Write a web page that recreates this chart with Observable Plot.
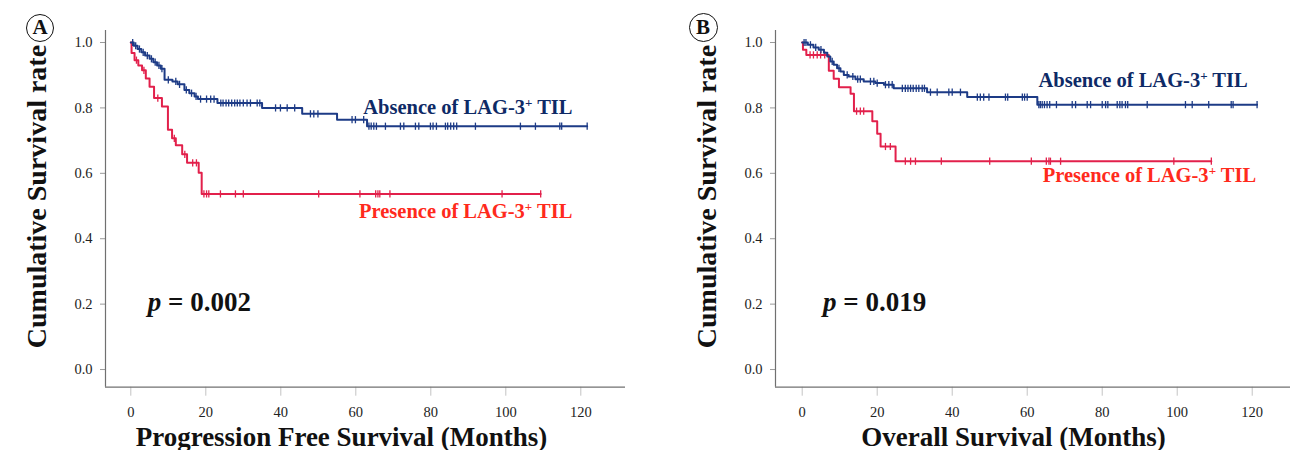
<!DOCTYPE html>
<html><head><meta charset="utf-8">
<script src="https://cdn.jsdelivr.net/npm/d3@7"></script>
<script src="https://cdn.jsdelivr.net/npm/@observablehq/plot@0.6"></script>
<style>
html,body{margin:0;padding:0;background:#fff;}
#wrap{display:flex;width:1290px;height:450px;position:relative;}
.panel{position:relative;width:645px;height:450px;}
.badge{position:absolute;box-sizing:border-box;border:1.5px solid #111;border-radius:50%;
  font-family:"Liberation Serif",serif;font-weight:bold;font-size:21px;color:#111;
  display:flex;align-items:center;justify-content:center;background:transparent;}
</style></head><body><div id="wrap"></div>
<script>
// ---- data ----
const yTicks = [0, 0.2, 0.4, 0.6, 0.8, 1.0];
const xTicks = [0, 20, 40, 60, 80, 100, 120];
const seriesNames = ["Absence of LAG-3+ TIL", "Presence of LAG-3+ TIL"];
const yTitle = "Cumulative Survival rate";
const xTitles = ["Progression Free Survival (Months)", "Overall Survival (Months)"];
const pValues = ["p = 0.002", "p = 0.019"];
const panelLetters = ["A", "B"];

// Panel A: progression free survival
const pfsAbsenceTime = [0, 0.8, 1.8, 2.8, 3.8, 5, 6, 7, 8, 9, 11.1, 12.5, 14.3, 15.6, 17, 17.9, 23.1, 35.0, 45.7, 55.0, 63.0, 121.7];
const pfsAbsenceSurv = [1, 0.99, 0.98, 0.97, 0.96, 0.95, 0.94, 0.93, 0.92, 0.886, 0.881, 0.872, 0.855, 0.845, 0.835, 0.827, 0.815, 0.80, 0.782, 0.764, 0.744, 0.744];
const pfsAbsenceCensor = [0.5, 1.3, 2.3, 3.3, 4.4, 5.5, 6.5, 7.5, 8.3, 10, 12, 13, 14.8, 16.2, 17.4, 18.6, 20.2, 21.3, 22.2, 24.0, 24.6, 25.4, 26.1, 26.9, 27.7, 28.4, 29.1, 30.0, 31.0, 31.9, 33.7, 34.4, 38.6, 39.9, 41.7, 43.7, 47.9, 48.8, 49.9, 59.0, 59.9, 62.1, 63.5, 64.1, 64.8, 65.5, 67.9, 71.9, 72.8, 75.9, 76.8, 79.9, 80.6, 81.5, 83.9, 84.5, 85.3, 86.1, 86.9, 91.9, 103.9, 107.9, 114.4, 114.9, 121.7];
const pfsPresenceTime = [0, 0.2, 1.0, 2.0, 3.0, 4.0, 5.0, 6.2, 8.3, 9.9, 11.0, 12.0, 13.7, 15.0, 18.1, 18.9, 109.3];
const pfsPresenceSurv = [1, 0.968, 0.946, 0.93, 0.915, 0.89, 0.865, 0.83, 0.804, 0.733, 0.707, 0.686, 0.658, 0.632, 0.602, 0.537, 0.537];
const pfsPresenceCensor = [1.5, 3.5, 7.2, 11.6, 14.4, 16.5, 17.5, 19.5, 20.2, 20.8, 23.9, 27.9, 30.0, 50.1, 61.1, 65.3, 65.9, 66.4, 69.1, 99.0, 109.3];

// Panel B: overall survival
const osAbsenceTime = [0, 1.5, 3, 4.4, 5.8, 6.7, 7.5, 8.4, 9.3, 10.2, 11.1, 12.4, 14.2, 16.4, 19.5, 21.8, 24.4, 33.3, 44, 62.7, 121.3];
const osAbsenceSurv = [1, 0.993, 0.985, 0.978, 0.969, 0.957, 0.942, 0.932, 0.921, 0.911, 0.901, 0.896, 0.888, 0.881, 0.876, 0.871, 0.86, 0.848, 0.833, 0.81, 0.81];
const osAbsenceCensor = [0.5, 1, 2.2, 3.6, 5, 8, 9.8, 12, 13.5, 14.8, 15.5, 18.2, 19.1, 20, 22.2, 23.1, 24, 26.7, 27.5, 28.2, 28.9, 29.6, 30.4, 31.1, 32, 32.6, 34.2, 36, 39.1, 40, 42.2, 46.7, 47.5, 48.4, 49.8, 54.2, 54.8, 58.7, 59.3, 60, 63.1, 63.5, 64, 64.6, 65.3, 66, 67.8, 72, 72.9, 76, 76.9, 80, 80.9, 81.5, 84, 84.7, 85.3, 86.2, 86.8, 92, 102.2, 104, 108.4, 114.4, 114.9, 121.3];
const osPresenceTime = [0, 0.2, 1.1, 7.1, 8.4, 9.8, 12.9, 13.8, 18.7, 20.0, 20.9, 24.9, 109.1];
const osPresenceSurv = [1, 0.978, 0.962, 0.914, 0.889, 0.863, 0.843, 0.79, 0.759, 0.721, 0.682, 0.637, 0.637];
const osPresenceCensor = [2.1, 3.0, 4.0, 4.9, 6.0, 14.5, 15.5, 16.4, 22.2, 23.5, 27.5, 28.9, 30.2, 37.1, 50, 61.1, 65.1, 65.8, 66.2, 68.9, 99.1, 109.1];

// ---- styling / layout ----
const BLUE = "#1d3b86", RED = "#e2204b";
const BLUE_TXT = "#0e2a66", RED_TXT = "#ff2a1c";
const FONT = "'Liberation Serif','Times New Roman',serif";
const yDomain = [-0.054, 1.0367];

const panels = [
  {letter: panelLetters[0], xTitle: xTitles[0], p: pValues[0],
   absT: pfsAbsenceTime, absS: pfsAbsenceSurv, absC: pfsAbsenceCensor,
   preT: pfsPresenceTime, preS: pfsPresenceSurv, preC: pfsPresenceCensor,
   ml: 105, mr: 20, xDomain: [-6.75, 131.92], xTitleDx: -24,
   absLab: [89.9, 0.802], preLab: [89.3, 0.482], pLab: [18.3, 0.206],
   badge: [40, 27.5, 14]},
  {letter: panelLetters[1], xTitle: xTitles[1], p: pValues[1],
   absT: osAbsenceTime, absS: osAbsenceSurv, absC: osAbsenceCensor,
   preT: osPresenceTime, preS: osPresenceSurv, preC: osPresenceCensor,
   ml: 130, mr: 0, xDomain: [-7.12, 130.21], xTitleDx: -19.5,
   absLab: [90.9, 0.883], preLab: [92.6, 0.593], pLab: [19.3, 0.206],
   badge: [58, 27.5, 14.5]}
];

const vtick = {draw(ctx, size) { const r = Math.sqrt(size / Math.PI); ctx.moveTo(0, -r); ctx.lineTo(0, r); }};
function survAt(T, S, t) { let s = S[0]; for (let i = 0; i < T.length; i++) if (T[i] <= t) s = S[i]; return s; }

const wrap = document.getElementById("wrap");
for (const cfg of panels) {
  const absLine = cfg.absT.map((t, i) => ({t, s: cfg.absS[i]}));
  const preLine = cfg.preT.map((t, i) => ({t, s: cfg.preS[i]}));
  const absCens = cfg.absC.map(t => ({t, s: survAt(cfg.absT, cfg.absS, t)}));
  const preCens = cfg.preC.map(t => ({t, s: survAt(cfg.preT, cfg.preS, t)}));
  const labels = [
    {t: cfg.absLab[0], s: cfg.absLab[1], text: seriesNames[0], fill: BLUE_TXT},
    {t: cfg.preLab[0], s: cfg.preLab[1], text: seriesNames[1], fill: RED_TXT}
  ];
  const chart = Plot.plot({
    width: 645, height: 450,
    marginLeft: cfg.ml, marginRight: cfg.mr, marginTop: 30, marginBottom: 63.3,
    x: {domain: cfg.xDomain},
    y: {domain: yDomain},
    style: {fontFamily: FONT, fontSize: "14.5px", color: "#222", background: "white", overflow: "visible"},
    marks: [
      Plot.axisY({ticks: yTicks, tickSize: 5, tickPadding: 8, tickFormat: d3.format(".1f"), stroke: "#9a9a9a", fill: "#222", label: null, fontSize: 14.5}),
      Plot.axisX({ticks: xTicks, tickSize: 9, tickPadding: 11, tickFormat: d => String(d), stroke: "#c4c4c4", fill: "#222", label: null, fontSize: 14.5}),
      Plot.ruleX([cfg.xDomain[0]], {stroke: "#707070", strokeWidth: 1.2}),
      Plot.ruleY([yDomain[0]], {stroke: "#707070", strokeWidth: 1.2}),
      Plot.line(preLine, {x: "t", y: "s", curve: "step-after", stroke: RED, strokeWidth: 2}),
      Plot.dot(preCens, {x: "t", y: "s", symbol: vtick, r: 3.6, stroke: RED, strokeWidth: 1.3, fill: "none"}),
      Plot.line(absLine, {x: "t", y: "s", curve: "step-after", stroke: BLUE, strokeWidth: 2}),
      Plot.dot(absCens, {x: "t", y: "s", symbol: vtick, r: 3.6, stroke: BLUE, strokeWidth: 1.3, fill: "none"}),
      Plot.text(labels, {x: "t", y: "s", text: "text", fill: "fill", fontSize: 20.5, fontWeight: "bold", textAnchor: "middle", lineAnchor: "middle"}),
      Plot.text([cfg.p], {x: () => cfg.pLab[0], y: () => cfg.pLab[1], text: d => d, fontSize: 27, fontWeight: "bold", fill: "#111", textAnchor: "middle", lineAnchor: "middle"}),
      Plot.text([yTitle], {text: d => d, frameAnchor: "left", rotate: -90, dx: -60, dy: -12.3, lineAnchor: "bottom", textAnchor: "middle", fontSize: 28, fontWeight: "bold", fill: "#111"}),
      Plot.text([cfg.xTitle], {text: d => d, frameAnchor: "bottom", dx: cfg.xTitleDx, dy: 58.3, lineAnchor: "bottom", textAnchor: "middle", fontSize: 27, fontWeight: "bold", fill: "#111"})
    ]
  });
  // tick labels: serif, larger
  d3.select(chart).selectAll('g[aria-label*="axis"] text, g[aria-label*="axis"] text tspan')
    .style("font-size", "14.5px").style("font-family", FONT).style("fill", "#222");
  // rich text: italic p, superscript +
  d3.select(chart).selectAll("text").each(function () {
    const s = this.textContent;
    if (s.startsWith("p = ")) {
      this.innerHTML = `<tspan font-style="italic">p</tspan>${s.slice(1)}`;
    } else if (s.includes("LAG-3+")) {
      const [a, b] = s.split("+");
      this.innerHTML = `${a}<tspan dy="-7" font-size="13">+</tspan><tspan dy="7">${b}</tspan>`;
    }
  });
  const div = document.createElement("div");
  div.className = "panel";
  div.appendChild(chart);
  const [bx, by, br] = cfg.badge;
  const badge = document.createElement("div");
  badge.className = "badge";
  badge.textContent = cfg.letter;
  Object.assign(badge.style, {left: (bx - br) + "px", top: (by - br) + "px", width: 2 * br + "px", height: 2 * br + "px"});
  div.appendChild(badge);
  wrap.appendChild(div);
}
</script></body></html>
